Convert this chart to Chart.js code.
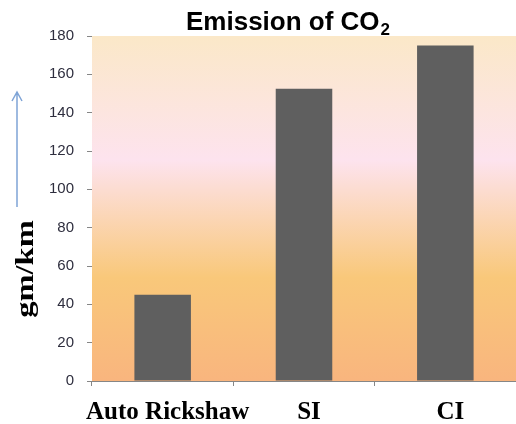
<!DOCTYPE html>
<html>
<head>
<meta charset="utf-8">
<script src="https://cdn.jsdelivr.net/npm/chart.js@4/dist/chart.umd.min.js"></script>
<style>
  html, body { margin: 0; padding: 0; background: #fff; }
  #wrap { width: 516px; height: 424px; }
</style>
</head>
<body>
<div id="wrap"><canvas id="chart" width="516" height="424"></canvas></div>
<script>
// chart data
const categories = ['Auto Rickshaw', 'SI', 'CI'];
const emissions = [45, 152.5, 175];
const yTicks = [0, 20, 40, 60, 80, 100, 120, 140, 160, 180];

// gradient plot background (pale peach -> pink -> orange)
const plotBackground = {
  id: 'plotBackground',
  beforeDatasetsDraw(chart) {
    const { ctx, chartArea: a } = chart;
    const g = ctx.createLinearGradient(0, a.top, 0, a.bottom);
    g.addColorStop(0, '#fbe8c8');
    g.addColorStop(0.36, '#fde3ee');
    g.addColorStop(0.7, '#f9c87a');
    g.addColorStop(1, '#f9b57e');
    ctx.save();
    ctx.fillStyle = g;
    ctx.fillRect(a.left, a.top, a.right - a.left, a.bottom - a.top);
    ctx.restore();
  }
};

// title (sits a bit right of centre, like the original) and y axis title with arrow
const labels = {
  id: 'labels',
  afterDraw(chart) {
    const ctx = chart.ctx;
    ctx.save();
    ctx.fillStyle = '#000';
    ctx.textBaseline = 'alphabetic';

    // "Emission of CO" plus a real subscript 2
    const mainFont = 'bold 26px "Liberation Sans", Arial, sans-serif';
    const subFont = 'bold 17px "Liberation Sans", Arial, sans-serif';
    ctx.font = mainFont;
    const w1 = ctx.measureText('Emission of CO').width;
    ctx.font = subFont;
    const w2 = ctx.measureText('2').width;
    const x0 = 288 - (w1 + w2 + 1) / 2;
    ctx.textAlign = 'left';
    ctx.font = mainFont;
    ctx.fillText('Emission of CO', x0, 30);
    ctx.font = subFont;
    ctx.fillText('2', x0 + w1 + 1, 35);

    ctx.strokeStyle = '#7fa4d6';
    ctx.lineWidth = 1.5;
    ctx.beginPath();
    ctx.moveTo(17, 207);
    ctx.lineTo(17, 92);
    ctx.moveTo(12, 101);
    ctx.lineTo(17, 92);
    ctx.lineTo(22, 101);
    ctx.stroke();

    ctx.translate(33, 269);
    ctx.rotate(-Math.PI / 2);
    ctx.scale(1.25, 1);
    ctx.textAlign = 'center';
    ctx.font = 'bold 26px "Liberation Serif", "Times New Roman", serif';
    ctx.fillText('gm/km', 0, 0);
    ctx.restore();
  }
};

new Chart(document.getElementById('chart'), {
  type: 'bar',
  data: {
    labels: categories,
    datasets: [{
      label: 'Emission of CO2',
      data: emissions,
      backgroundColor: '#5f5f5f',
      borderWidth: 0,
      barPercentage: 0.4,
      categoryPercentage: 1.0
    }]
  },
  options: {
    responsive: false,
    animation: false,
    layout: { padding: { left: 0, right: -2, top: 36, bottom: 0 } },
    plugins: {
      legend: { display: false },
      tooltip: { enabled: false },
      title: { display: false }
    },
    scales: {
      x: {
        grid: {
          offset: true,
          drawOnChartArea: false,
          drawTicks: true,
          tickLength: 5,
          color: '#868686'
        },
        border: { color: '#868686' },
        ticks: {
          color: '#000',
          padding: 12,
          labelOffset: 5,
          maxRotation: 0,
          minRotation: 0,
          autoSkip: false,
          font: { family: '"Liberation Serif", "Times New Roman", serif', size: 25, weight: 'bold' }
        },
        afterFit(scale) { scale.height = 43; }
      },
      y: {
        min: 0,
        max: 180,
        afterBuildTicks(scale) { scale.ticks = yTicks.map(v => ({ value: v })); },
        grid: {
          drawOnChartArea: false,
          drawTicks: true,
          tickLength: 5,
          color: '#868686'
        },
        border: { color: '#868686' },
        ticks: {
          color: '#2e2e3e',
          padding: 13,
          font: { family: '"Liberation Sans", Arial, sans-serif', size: 15 }
        },
        afterFit(scale) { scale.width = 92; }
      }
    }
  },
  plugins: [plotBackground, labels]
});
</script>
</body>
</html>
